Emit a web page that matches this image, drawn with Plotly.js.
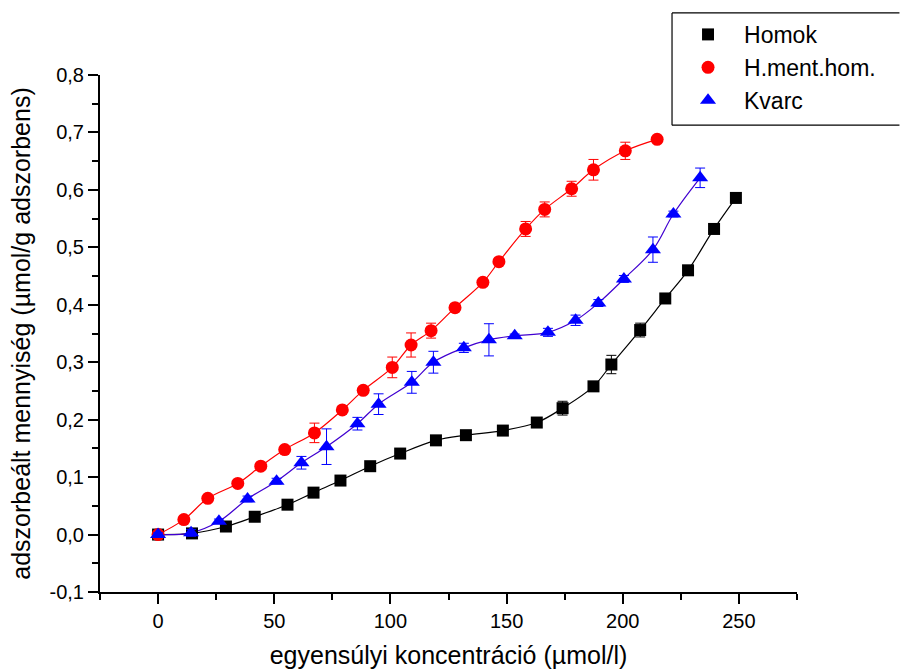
<!DOCTYPE html>
<html>
<head>
<meta charset="utf-8">
<script src="https://cdn.plot.ly/plotly-3.0.1.min.js"></script>
<style>html,body{margin:0;padding:0;background:#fff;overflow:hidden;}#chart{width:900px;height:672px;}</style>
</head>
<body>
<div id="chart"></div>
<script>
// Homok (black squares)
const homokX = [0, 14.6, 29.2, 41.6, 55.7, 66.9, 78.5, 91.3, 104.2, 119.6, 132.5, 148.4, 163.0, 174.1, 187.4, 195.1, 207.5, 218.3, 228.1, 239.3, 248.7];
const homokY = [0, 0.002, 0.014, 0.031, 0.052, 0.073, 0.094, 0.119, 0.141, 0.164, 0.173, 0.181, 0.195, 0.220, 0.258, 0.296, 0.356, 0.411, 0.460, 0.532, 0.586];
const homokErr = [0.002, 0.004, 0.004, 0.003, 0.003, 0.003, 0.003, 0.003, 0.005, 0.004, 0.003, 0.004, 0.005, 0.012, 0.008, 0.016, 0.012, 0.004, 0.004, 0.003, 0.003];

// H.ment.hom. (red circles)
const hmentX = [0, 11.1, 21.4, 34.3, 44.2, 54.5, 67.3, 79.3, 88.3, 100.8, 108.9, 117.5, 127.8, 139.8, 146.7, 158.2, 166.4, 178.0, 187.4, 201.1, 214.8];
const hmentY = [0, 0.026, 0.063, 0.089, 0.119, 0.148, 0.177, 0.217, 0.251, 0.291, 0.330, 0.355, 0.395, 0.439, 0.475, 0.532, 0.566, 0.602, 0.635, 0.668, 0.688];
const hmentErr = [0.003, 0.004, 0.003, 0.003, 0.003, 0.004, 0.017, 0.004, 0.004, 0.018, 0.021, 0.013, 0.006, 0.006, 0.005, 0.013, 0.013, 0.013, 0.018, 0.015, 0.004];

// Kvarc (blue triangles)
const kvarcX = [0, 14.2, 26.2, 38.5, 51.0, 61.7, 72.5, 85.8, 94.9, 109.2, 118.5, 131.6, 142.4, 153.5, 167.8, 179.7, 189.5, 200.5, 213.0, 221.8, 233.3];
const kvarcY = [0, 0.003, 0.023, 0.062, 0.093, 0.125, 0.153, 0.193, 0.227, 0.265, 0.300, 0.325, 0.339, 0.346, 0.352, 0.373, 0.403, 0.445, 0.496, 0.558, 0.621];
const kvarcErr = [0.003, 0.006, 0.004, 0.005, 0.005, 0.011, 0.031, 0.011, 0.018, 0.019, 0.019, 0.008, 0.028, 0.003, 0.007, 0.009, 0.006, 0.006, 0.022, 0.005, 0.017];

// tick labels
const yTickVals = [-0.1, 0, 0.1, 0.2, 0.3, 0.4, 0.5, 0.6, 0.7, 0.8];
const yTickText = ['-0,1', '0,0', '0,1', '0,2', '0,3', '0,4', '0,5', '0,6', '0,7', '0,8'];
const xTickVals = [0, 50, 100, 150, 200, 250];
const xTickText = ['0', '50', '100', '150', '200', '250'];

const series = [
  {name: 'Homok', x: homokX, y: homokY, e: homokErr, color: '#000000', line: '#000000', symbol: 'square', size: 12},
  {name: 'H.ment.hom.', x: hmentX, y: hmentY, e: hmentErr, color: '#ff0000', line: '#ff0000', symbol: 'circle', size: 13},
  {name: 'Kvarc', x: kvarcX, y: kvarcY, e: kvarcErr, color: '#0000ff', line: '#4000d0', symbol: 'triangle-up', size: 14}
];

const traces = [];
series.forEach(s => {
  traces.push({
    x: s.x, y: s.y, type: 'scatter', mode: 'lines', showlegend: false, hoverinfo: 'skip',
    line: {color: s.line, width: 1.2, shape: 'spline', smoothing: 1}
  });
});
series.forEach(s => {
  traces.push({
    x: s.x, y: s.y, type: 'scatter', mode: 'markers', name: s.name,
    marker: {symbol: s.symbol, size: s.size, color: s.color, line: {width: 0}},
    error_y: {type: 'data', array: s.e, visible: true, color: s.color, thickness: 1, width: 5}
  });
});

const font = 'Liberation Sans, Arial, sans-serif';
const boxLine = {color: '#000', width: 1.2};
const layout = {
  width: 900, height: 672,
  paper_bgcolor: '#ffffff', plot_bgcolor: '#ffffff',
  margin: {l: 100, r: 103, t: 75, b: 80},
  font: {family: font, color: '#000', size: 20},
  showlegend: true,
  legend: {
    x: 0.8207, y: 1.12, xanchor: 'left', yanchor: 'top',
    bgcolor: 'rgba(255,255,255,0)', bordercolor: 'rgba(0,0,0,0)', borderwidth: 0,
    font: {family: font, size: 23, color: '#000'},
    itemwidth: 62, tracegroupgap: 0
  },
  shapes: [
    {type: 'line', xref: 'paper', yref: 'paper', x0: 0.8207, x1: 1.147, y0: 1.12, y1: 1.12, line: boxLine, layer: 'above'},
    {type: 'line', xref: 'paper', yref: 'paper', x0: 0.8207, x1: 1.147, y0: 0.903, y1: 0.903, line: boxLine, layer: 'above'},
    {type: 'line', xref: 'paper', yref: 'paper', x0: 0.8207, x1: 0.8207, y0: 0.903, y1: 1.12, line: boxLine, layer: 'above'}
  ],
  xaxis: {
    range: [-25, 275], showgrid: false, zeroline: false,
    showline: true, linecolor: '#000', linewidth: 2,
    ticks: 'outside', ticklen: 10, tickwidth: 2, tickcolor: '#000',
    tickvals: xTickVals, ticktext: xTickText,
    minor: {tickvals: [-25, 25, 75, 125, 175, 225, 275], ticks: 'outside', ticklen: 6, tickwidth: 2, tickcolor: '#000'},
    tickfont: {family: font, size: 20},
    title: {text: 'egyensúlyi koncentráció (µmol/l)', font: {family: font, size: 25}, standoff: 15}
  },
  yaxis: {
    range: [-0.1, 0.8], showgrid: false, zeroline: false,
    showline: true, linecolor: '#000', linewidth: 2,
    ticks: 'outside', ticklen: 10, tickwidth: 2, tickcolor: '#000',
    tickvals: yTickVals, ticktext: yTickText,
    minor: {tickvals: [-0.05, 0.05, 0.15, 0.25, 0.35, 0.45, 0.55, 0.65, 0.75], ticks: 'outside', ticklen: 6, tickwidth: 2, tickcolor: '#000'},
    tickfont: {family: font, size: 20},
    title: {text: 'adszorbeált mennyiség (µmol/g adszorbens)', font: {family: font, size: 25}, standoff: 12}
  }
};

Plotly.newPlot('chart', traces, layout, {displayModeBar: false, staticPlot: true});
</script>
</body>
</html>
